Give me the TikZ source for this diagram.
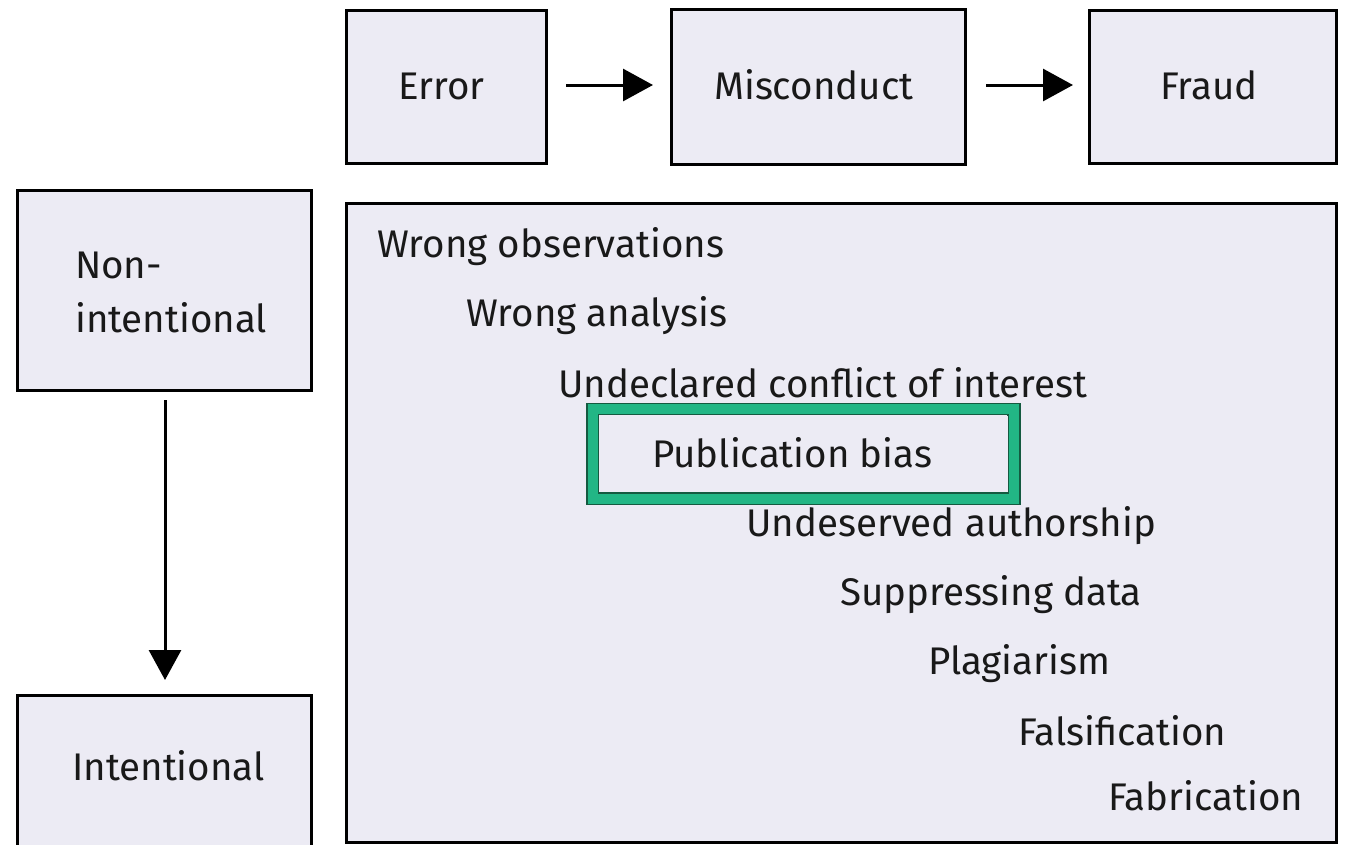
\documentclass[tikz,border=0pt]{standalone}
\usepackage{fontspec}
\setmainfont{Fira Sans}
\usetikzlibrary{arrows.meta}
\definecolor{boxfill}{HTML}{ECEBF4}
\definecolor{hlgreen}{HTML}{22B685}
\definecolor{hldark}{HTML}{145A40}
\begin{document}
\begin{tikzpicture}[x=1pt,y=-1pt,
  box/.style={draw=black,line width=3pt,fill=boxfill},
  lbl/.style={anchor=base west,inner sep=0pt,font=\fontsize{38.5}{46}\selectfont,text=black!90},
  arr/.style={line width=3pt,-{Triangle[length=30pt,width=32pt]}}]
\useasboundingbox (0,0) rectangle (1345,844);
\fill[white] (0,0) rectangle (1345,844);
% top boxes
\node[box,minimum width=200pt,minimum height=153pt,anchor=north west,inner sep=0pt] (err) at (345,9) {};
\node[box,minimum width=294pt,minimum height=155pt,anchor=north west,inner sep=0pt] (mis) at (670,8) {};
\node[box,minimum width=247pt,minimum height=153pt,anchor=north west,inner sep=0pt] (fra) at (1088,9) {};
\node[lbl] (terr) at (398,99) {Error};
\node[lbl] (tmis) at (714,99) {Misconduct};
\node[lbl] (tfra) at (1160,99) {Fraud};
% left boxes
\node[box,minimum width=294pt,minimum height=200pt,anchor=north west,inner sep=0pt] (non) at (16,189) {};
\node[box,minimum width=294pt,minimum height=160pt,anchor=north west,inner sep=0pt] (int) at (16,694) {};
\node[lbl] (tnon1) at (75,278) {Non-};
\node[lbl] (tnon2) at (75,332) {intentional};
\node[lbl] (tint) at (72,780) {Intentional};
% big box
\node[box,minimum width=990pt,minimum height=639pt,anchor=north west,inner sep=0pt] (big) at (345,202) {};
% highlight
\draw[hldark,line width=13pt] (592.5,409) rectangle (1014,498.5);
\draw[hlgreen,line width=10pt] (592.5,409) rectangle (1014,498.5);
\fill[boxfill] (599,415) rectangle (1007,492);
\node[lbl] (t1) at (377,257) {Wrong observations};
\node[lbl] (t2) at (466,326) {Wrong analysis};
\node[lbl] (t3) at (558,397) {Undeclared conflict of interest};
\node[lbl] (t4) at (652,467) {Publication bias};
\node[lbl] (t5) at (746,536) {Undeserved authorship};
\node[lbl] (t6) at (840,605) {Suppressing data};
\node[lbl] (t7) at (928,674) {Plagiarism};
\node[lbl] (t8) at (1018,745) {Falsification};
\node[lbl] (t9) at (1108,810) {Fabrication};
% arrows
\coordinate (a1s) at (566,85); \coordinate (a1e) at (653,85);
\coordinate (a2s) at (986,85); \coordinate (a2e) at (1073,85);
\coordinate (a3s) at (165,400); \coordinate (a3e) at (165,680);
\draw[arr] (a1s) -- (a1e);
\draw[arr] (a2s) -- (a2e);
\draw[arr] (a3s) -- (a3e);
\end{tikzpicture}
\end{document}
